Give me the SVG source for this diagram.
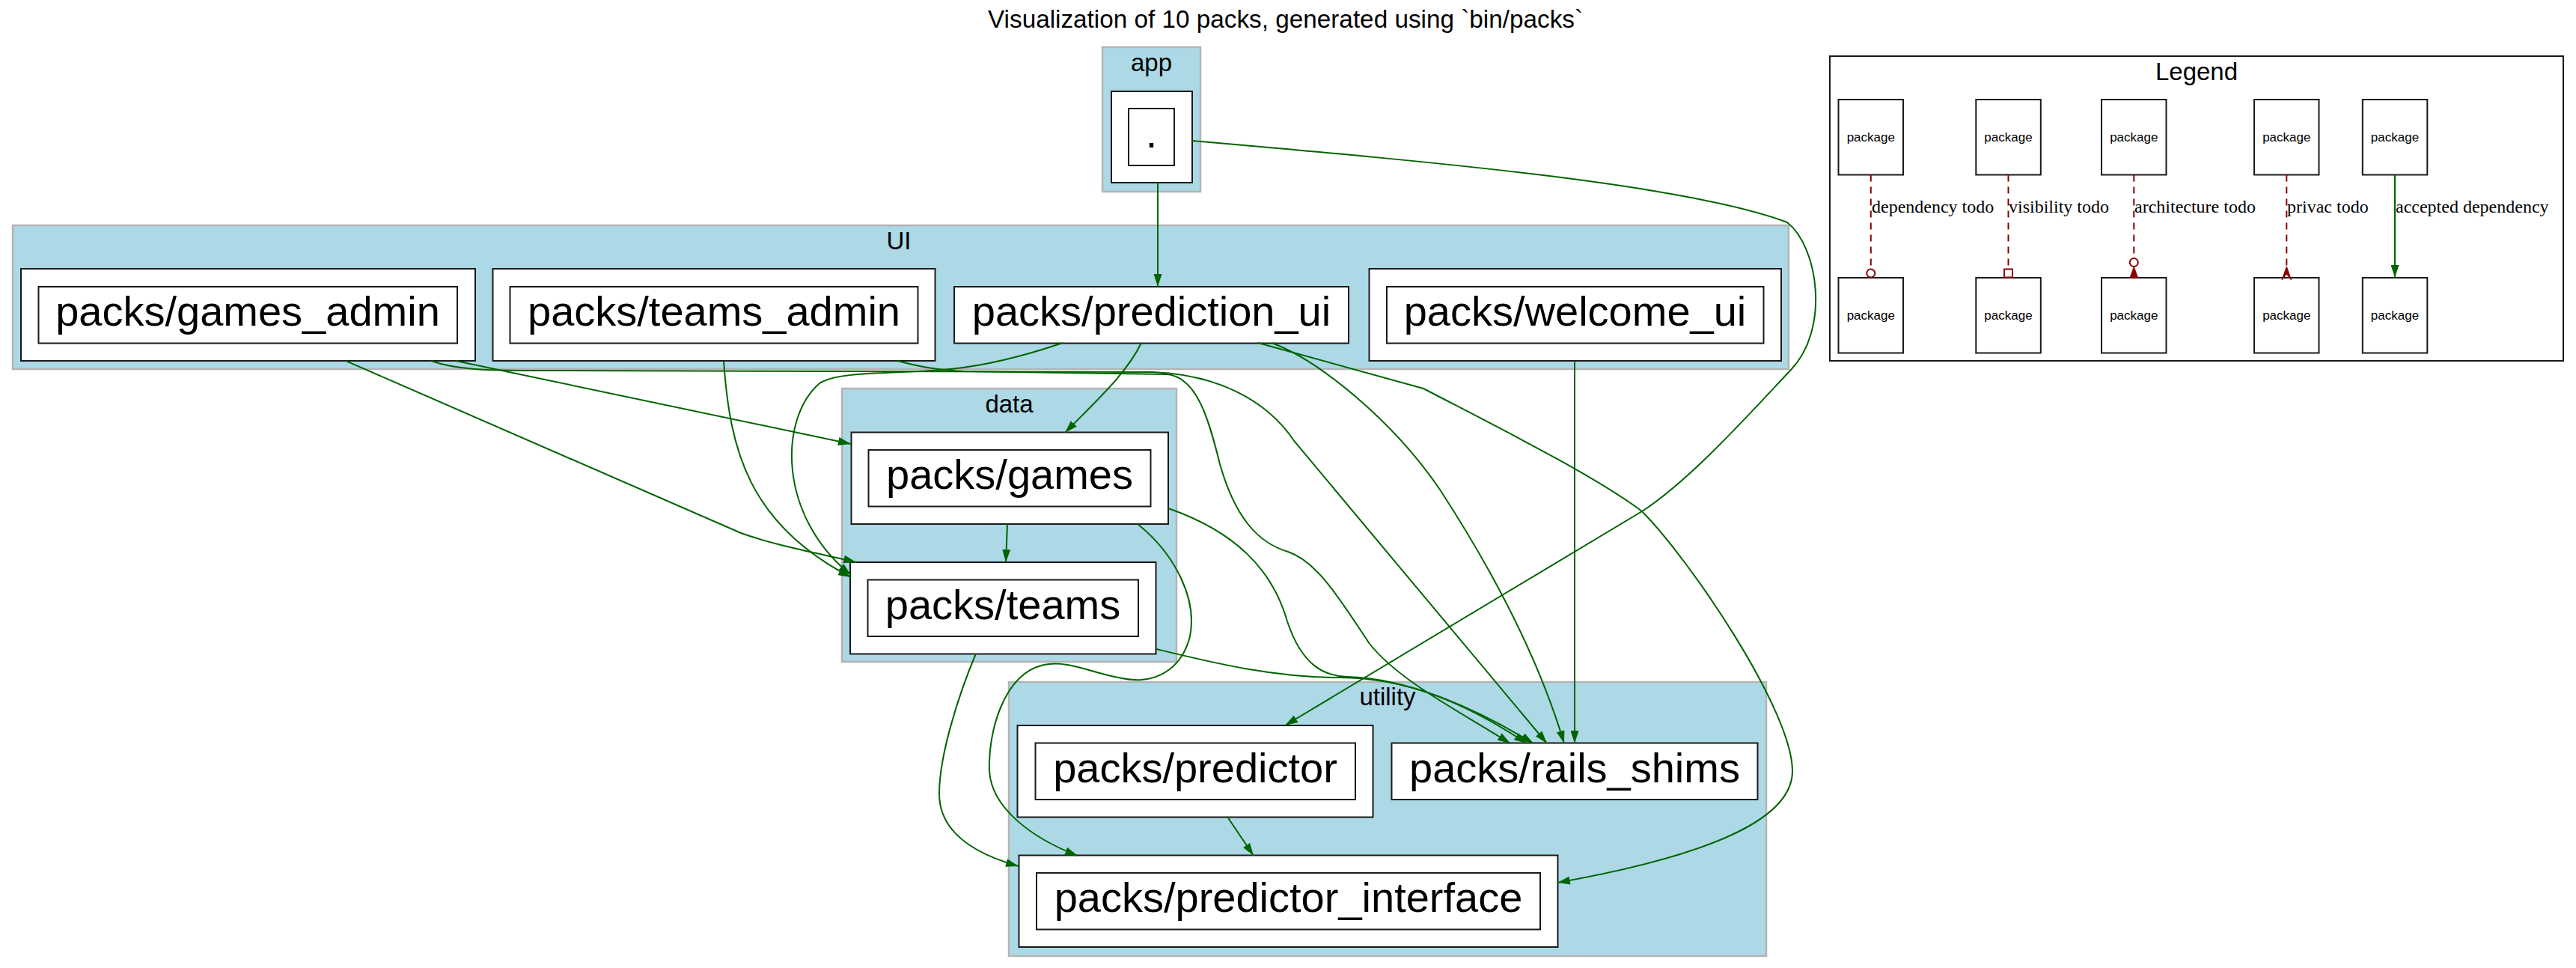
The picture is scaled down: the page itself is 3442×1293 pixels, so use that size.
<svg xmlns="http://www.w3.org/2000/svg" width="3442" height="1293" viewBox="0 0 3442 1293">
<defs>
<style>
.cl{fill:#add8e6;stroke:#b4b4b4;stroke-width:2.5}
.bx{fill:#fff;stroke:#1a1a1a;stroke-width:2}
.lb{font-family:"Liberation Sans",Arial,sans-serif;font-size:33px;fill:#000;text-anchor:middle}
.nl{font-family:"Liberation Sans",Arial,sans-serif;font-size:56px;fill:#000;text-anchor:middle}
.pk{font-family:"Liberation Sans",Arial,sans-serif;font-size:17px;fill:#000;text-anchor:middle}
.el{font-family:"Liberation Serif","Times New Roman",serif;font-size:24px;fill:#000}
.e{fill:none;stroke:#006400;stroke-width:2;marker-end:url(#arr)}
.td{fill:none;stroke:#8b0000;stroke-width:2;stroke-dasharray:9,7}
</style>
<marker id="arr" markerUnits="userSpaceOnUse" markerWidth="17" markerHeight="11" viewBox="0 0 17 11" refX="17" refY="5.5" orient="auto">
<path d="M0,0 L17,5.5 L0,11 z" fill="#006400"/>
</marker>
</defs>
<rect width="3442" height="1293" fill="#fff"/>
<text class="lb" x="1717.5" y="37" textLength="795" lengthAdjust="spacingAndGlyphs">Visualization of 10 packs, generated using `bin/packs`</text>

<g id="cluster_app">
<rect class="cl" x="1473" y="63" width="131" height="193"/>
<text class="lb" x="1538.5" y="95">app</text>
</g>
<g id="cluster_UI">
<rect class="cl" x="17" y="301" width="2373" height="192"/>
<text class="lb" x="1201" y="333">UI</text>
</g>
<g id="cluster_data">
<rect class="cl" x="1125" y="519" width="447" height="365"/>
<text class="lb" x="1348.5" y="551">data</text>
</g>
<g id="cluster_utility">
<rect class="cl" x="1348" y="911" width="1012" height="366"/>
<text class="lb" x="1854" y="942">utility</text>
</g>

<g id="node_root">
<rect class="bx" x="1485" y="122" width="108" height="122"/>
<rect class="bx" x="1508" y="145" width="61" height="76"/>
<text class="nl" x="1538.5" y="197">.</text>
</g>
<g id="node_games_admin">
<rect class="bx" x="28" y="359" width="607" height="123"/>
<rect class="bx" x="51.5" y="383" width="559.5" height="75.5"/>
<text class="nl" x="331" y="435">packs/games_admin</text>
</g>
<g id="node_teams_admin">
<rect class="bx" x="658.5" y="359" width="591" height="123"/>
<rect class="bx" x="681.5" y="383" width="545" height="75.5"/>
<text class="nl" x="954" y="435">packs/teams_admin</text>
</g>
<g id="node_prediction_ui">
<rect class="bx" x="1275" y="383" width="527" height="75.5"/>
<text class="nl" x="1538.5" y="435">packs/prediction_ui</text>
</g>
<g id="node_welcome_ui">
<rect class="bx" x="1829.5" y="359" width="550.5" height="123"/>
<rect class="bx" x="1853" y="383" width="503.5" height="75.5"/>
<text class="nl" x="2104.5" y="435">packs/welcome_ui</text>
</g>
<g id="node_games">
<rect class="bx" x="1137.5" y="577.5" width="423.5" height="122.5"/>
<rect class="bx" x="1160.5" y="601" width="377" height="75.5"/>
<text class="nl" x="1349" y="653">packs/games</text>
</g>
<g id="node_teams">
<rect class="bx" x="1136" y="751" width="408.5" height="122.5"/>
<rect class="bx" x="1159.5" y="774.5" width="361.5" height="75.5"/>
<text class="nl" x="1340" y="826.5">packs/teams</text>
</g>
<g id="node_predictor">
<rect class="bx" x="1359.5" y="969" width="475" height="122.5"/>
<rect class="bx" x="1383.5" y="992.5" width="427.5" height="75.5"/>
<text class="nl" x="1597" y="1044.5">packs/predictor</text>
</g>
<g id="node_rails_shims">
<rect class="bx" x="1859.5" y="992.5" width="489" height="75.5"/>
<text class="nl" x="2104" y="1044.5">packs/rails_shims</text>
</g>
<g id="node_predictor_interface">
<rect class="bx" x="1361.5" y="1142.5" width="720" height="122.5"/>
<rect class="bx" x="1385" y="1166" width="673" height="75.5"/>
<text class="nl" x="1721.5" y="1218">packs/predictor_interface</text>
</g>

<g id="edges">
<path class="e" d="M1547,244 L1547,383"/>
<path class="e" d="M1593,188 C1900,215 2250,245 2388,297 C2430,330 2445,440 2393,494 C2340,550 2260,640 2194,683 L1717,969"/>
<path class="e" d="M609,482 L1137,593"/>
<path class="e" d="M462,482 C700,585 940,690 990,712 C1040,730 1100,740 1144,751"/>
<path class="e" d="M576,482 C610,494 650,495 720,495 L1540,497 C1620,500 1690,530 1730,590 L2067,993"/>
<path class="e" d="M967,482 C975,600 1000,700 1137,771"/>
<path class="e" d="M1199,482 C1230,490 1250,494 1290,496 L1560,500 C1600,505 1615,560 1630,620 C1650,690 1680,725 1721,737 C1760,750 1790,800 1830,860 C1870,910 1950,950 2018,993"/>
<path class="e" d="M1525,458 C1505,500 1460,540 1423,578"/>
<path class="e" d="M1420,458 C1370,475 1320,488 1270,493 C1200,500 1120,495 1095,512 C1040,560 1040,690 1137,768"/>
<path class="e" d="M1699,458 C1760,480 1860,560 1924,654 C1980,740 2050,860 2090,993"/>
<path class="e" d="M1681,458 L1902,519 C2000,570 2130,635 2194,683 C2260,750 2395,950 2395,1030 C2395,1090 2300,1140 2081,1179"/>
<path class="e" d="M2104,482 L2104,993"/>
<path class="e" d="M1346,700 L1344,751"/>
<path class="e" d="M1561,679 C1650,710 1700,760 1720,830 C1740,890 1770,903 1800,904 C1880,906 1970,945 2049,993"/>
<path class="e" d="M1520,700 C1570,740 1600,800 1590,850 C1580,890 1550,910 1515,908 C1470,905 1430,880 1395,888 C1340,900 1320,980 1322,1030 C1325,1080 1380,1120 1440,1143"/>
<path class="e" d="M1545,867 C1620,885 1700,905 1790,905 C1880,905 1960,940 2040,993"/>
<path class="e" d="M1304,873 C1280,930 1255,1010 1255,1060 C1255,1110 1300,1140 1361,1157"/>
<path class="e" d="M1640,1091 L1675,1143"/>
</g>

<g id="legend">
<rect x="2445" y="75" width="980" height="407" fill="#fff" stroke="#1a1a1a" stroke-width="2"/>
<text class="lb" x="2935" y="107">Legend</text>
<g id="legend_nodes">
<rect class="bx" x="2456.5" y="133" width="86.5" height="100.5"/>
<rect class="bx" x="2640.3" y="133" width="86.5" height="100.5"/>
<rect class="bx" x="2808" y="133" width="86.5" height="100.5"/>
<rect class="bx" x="3012" y="133" width="86.5" height="100.5"/>
<rect class="bx" x="3156.8" y="133" width="86.5" height="100.5"/>
<rect class="bx" x="2456.5" y="371" width="86.5" height="100.5"/>
<rect class="bx" x="2640.3" y="371" width="86.5" height="100.5"/>
<rect class="bx" x="2808" y="371" width="86.5" height="100.5"/>
<rect class="bx" x="3012" y="371" width="86.5" height="100.5"/>
<rect class="bx" x="3156.8" y="371" width="86.5" height="100.5"/>
<text class="pk" x="2499.8" y="189">package</text>
<text class="pk" x="2683.5" y="189">package</text>
<text class="pk" x="2851.3" y="189">package</text>
<text class="pk" x="3055.3" y="189">package</text>
<text class="pk" x="3200" y="189">package</text>
<text class="pk" x="2499.8" y="427">package</text>
<text class="pk" x="2683.5" y="427">package</text>
<text class="pk" x="2851.3" y="427">package</text>
<text class="pk" x="3055.3" y="427">package</text>
<text class="pk" x="3200" y="427">package</text>
</g>
<g id="legend_edges">
<path class="td" d="M2499.8,233.5 L2499.8,359.5"/>
<circle cx="2499.8" cy="365" r="5.5" fill="none" stroke="#8b0000" stroke-width="2"/>
<path class="td" d="M2683.5,233.5 L2683.5,359.5"/>
<rect x="2678" y="359.5" width="11" height="11" fill="none" stroke="#8b0000" stroke-width="2"/>
<path class="td" d="M2851.3,233.5 L2851.3,345"/>
<circle cx="2851.3" cy="350.5" r="5.5" fill="none" stroke="#8b0000" stroke-width="2"/>
<path d="M2851.3,356.5 L2856.6,371 L2846,371 z" fill="#8b0000" stroke="#8b0000" stroke-width="1"/>
<path class="td" d="M3055.3,233.5 L3055.3,366"/>
<path d="M3049,374 L3055.3,356 L3061.6,374 L3055.3,366 z" fill="#8b0000" stroke="#8b0000" stroke-width="1"/>
<path class="e" d="M3200,233.5 L3200,371"/>
<text class="el" x="2501" y="284">dependency todo</text>
<text class="el" x="2684" y="284">visibility todo</text>
<text class="el" x="2852" y="284">architecture todo</text>
<text class="el" x="3056" y="284">privac todo</text>
<text class="el" x="3201" y="284">accepted dependency</text>
</g>
</g>
</svg>
